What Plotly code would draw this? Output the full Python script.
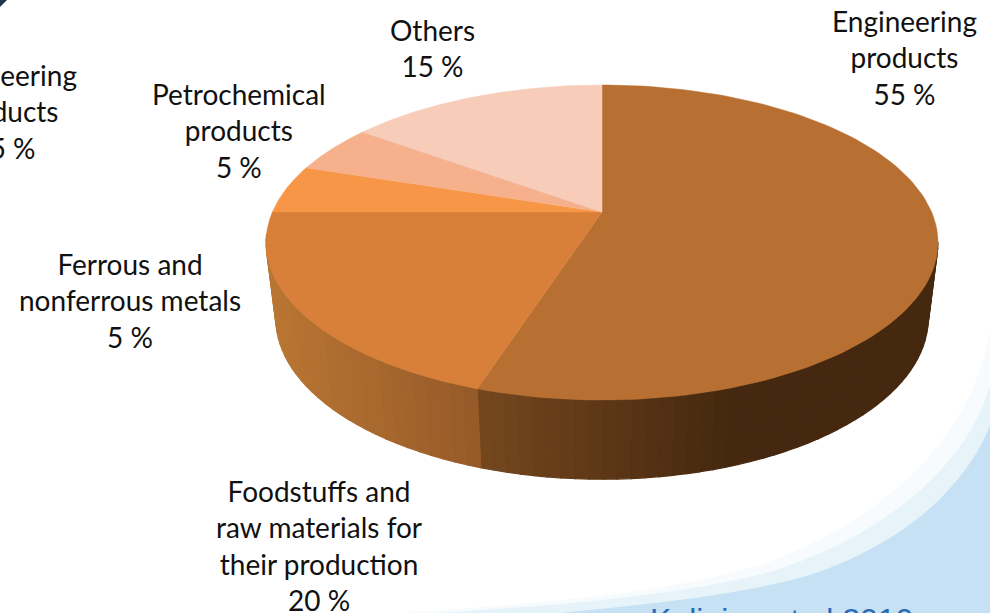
import numpy as np
import plotly.graph_objects as go

categories = ["Engineering products", "Foodstuffs and raw materials for their production",
              "Ferrous and nonferrous metals", "Petrochemical products", "Others"]
values = [55, 20, 5, 5, 15]
top_colors = ["#b87032", "#d8803a", "#f79646", "#f6b18c", "#f7ccb8"]
side_left = ["#75471e", "#ba7633", "#ba7633", "#ba7633", "#ba7633"]
side_right = ["#45280f", "#965a29", "#965a29", "#965a29", "#965a29"]
label_text = ["Engineering<br>products<br>55 %", "Foodstuffs and<br>raw materials for<br>their production<br>20 %",
              "Ferrous and<br>nonferrous metals<br>5 %", "Petrochemical<br>products<br>5 %", "Others<br>15 %",
              "Engineering<br>products<br>55 %"]
label_x = [904, 319, 130, 239, 432, 4]
label_y = [57, 545, 300, 130, 48, 111]

W, H = 990, 613
def rim(t, a, b, y0, k=0.1937, cx=602):
    u, v = np.sin(t), np.cos(t)
    d = 1 + k * v
    return cx + a * u / d, y0 - b * v / d

TOP = dict(a=329.6, b=151.6, y0=212)
BOT = dict(a=320, b=155, y0=287)

def hexrgb(h):
    return np.array([int(h[i:i + 2], 16) for i in (1, 3, 5)], float)

fig = go.Figure()
edges = np.cumsum([0] + values) / sum(values) * 2 * np.pi

# visible side wall: narrow bands shaded left to right
vis0, vis1 = np.deg2rad(101), np.deg2rad(262)
for i in range(len(values)):
    s, e = max(edges[i], vis0), min(edges[i + 1], vis1)
    if e <= s:
        continue
    n = max(2, int((e - s) / np.deg2rad(2.0)))
    ts = np.linspace(e, s, n + 1)
    xl = rim(np.array([e]), **TOP)[0][0]
    xr = min(rim(np.array([s]), **TOP)[0][0], 730 if i == 0 else 1e9)
    cl, cr = hexrgb(side_left[i]), hexrgb(side_right[i])
    for j in range(n):
        tt = np.linspace(ts[j], ts[j + 1], 4)
        xa, ya = rim(tt, **TOP)
        xb, yb = rim(tt[::-1], **BOT)
        f = np.clip((xa.mean() - xl) / (xr - xl), 0, 1)
        c = cl + (cr - cl) * f
        col = f"rgb({c[0]:.0f},{c[1]:.0f},{c[2]:.0f})"
        fig.add_trace(go.Scatter(x=np.r_[xa, xb, xa[0]], y=np.r_[ya, yb, ya[0]], mode="lines", fill="toself",
                                 fillcolor=col, line=dict(width=1.2, color=col),
                                 hoverinfo="skip", showlegend=False))

# top face
for i, cat in enumerate(categories):
    tt = np.linspace(edges[i], edges[i + 1], 120)
    x, y = rim(tt, **TOP)
    cx, cy = rim(np.array([0.0]), 0, 0, TOP["y0"])
    fig.add_trace(go.Scatter(x=np.r_[cx, x, cx], y=np.r_[cy, y, cy], mode="lines", fill="toself",
                             fillcolor=top_colors[i], line=dict(width=0.5, color=top_colors[i]),
                             name=cat, hoverinfo="name", showlegend=False))

for t, x, y in zip(label_text, label_x, label_y):
    fig.add_annotation(x=x, y=y, text=t, showarrow=False, align="center", xref="x", yref="y",
                       font=dict(family="Lato", size=28, color="#111111"))

fig.add_annotation(x=781, y=600, yanchor="top", text="Kalinina et al 2010", showarrow=False, xref="x", yref="y",
                   font=dict(family="Liberation Sans", size=32, color="#2a6ab5"))

shapes = [
    dict(type="path", path="M 990 330 C 975 430 890 520 760 565 C 660 595 540 603 400 613 L 990 613 Z",
         fillcolor="#f7fbfd", line_width=0, layer="below"),
    dict(type="path", path="M 990 385 C 970 460 890 535 770 572 C 680 596 560 605 440 613 L 990 613 Z",
         fillcolor="#e6f3f9", line_width=0, layer="below"),
    dict(type="path", path="M 990 425 C 965 490 900 545 810 575 C 740 595 660 603 560 613 L 990 613 Z",
         fillcolor="#c6e1f3", line_width=0, layer="below"),
    dict(type="path", path="M 0 0 L 7 0 L 0 7 Z", fillcolor="#1f3650", line_width=0, layer="below"),
]
fig.update_layout(width=W, height=H, margin=dict(l=0, r=0, t=0, b=0), paper_bgcolor="white",
                  plot_bgcolor="white", shapes=shapes, showlegend=False,
                  xaxis=dict(range=[0, W], visible=False, fixedrange=True),
                  yaxis=dict(range=[H, 0], visible=False, fixedrange=True))
fig.write_html("out.html", config=dict(displayModeBar=False),
               post_script="document.body.style.margin='0';document.body.style.overflow='hidden';")
